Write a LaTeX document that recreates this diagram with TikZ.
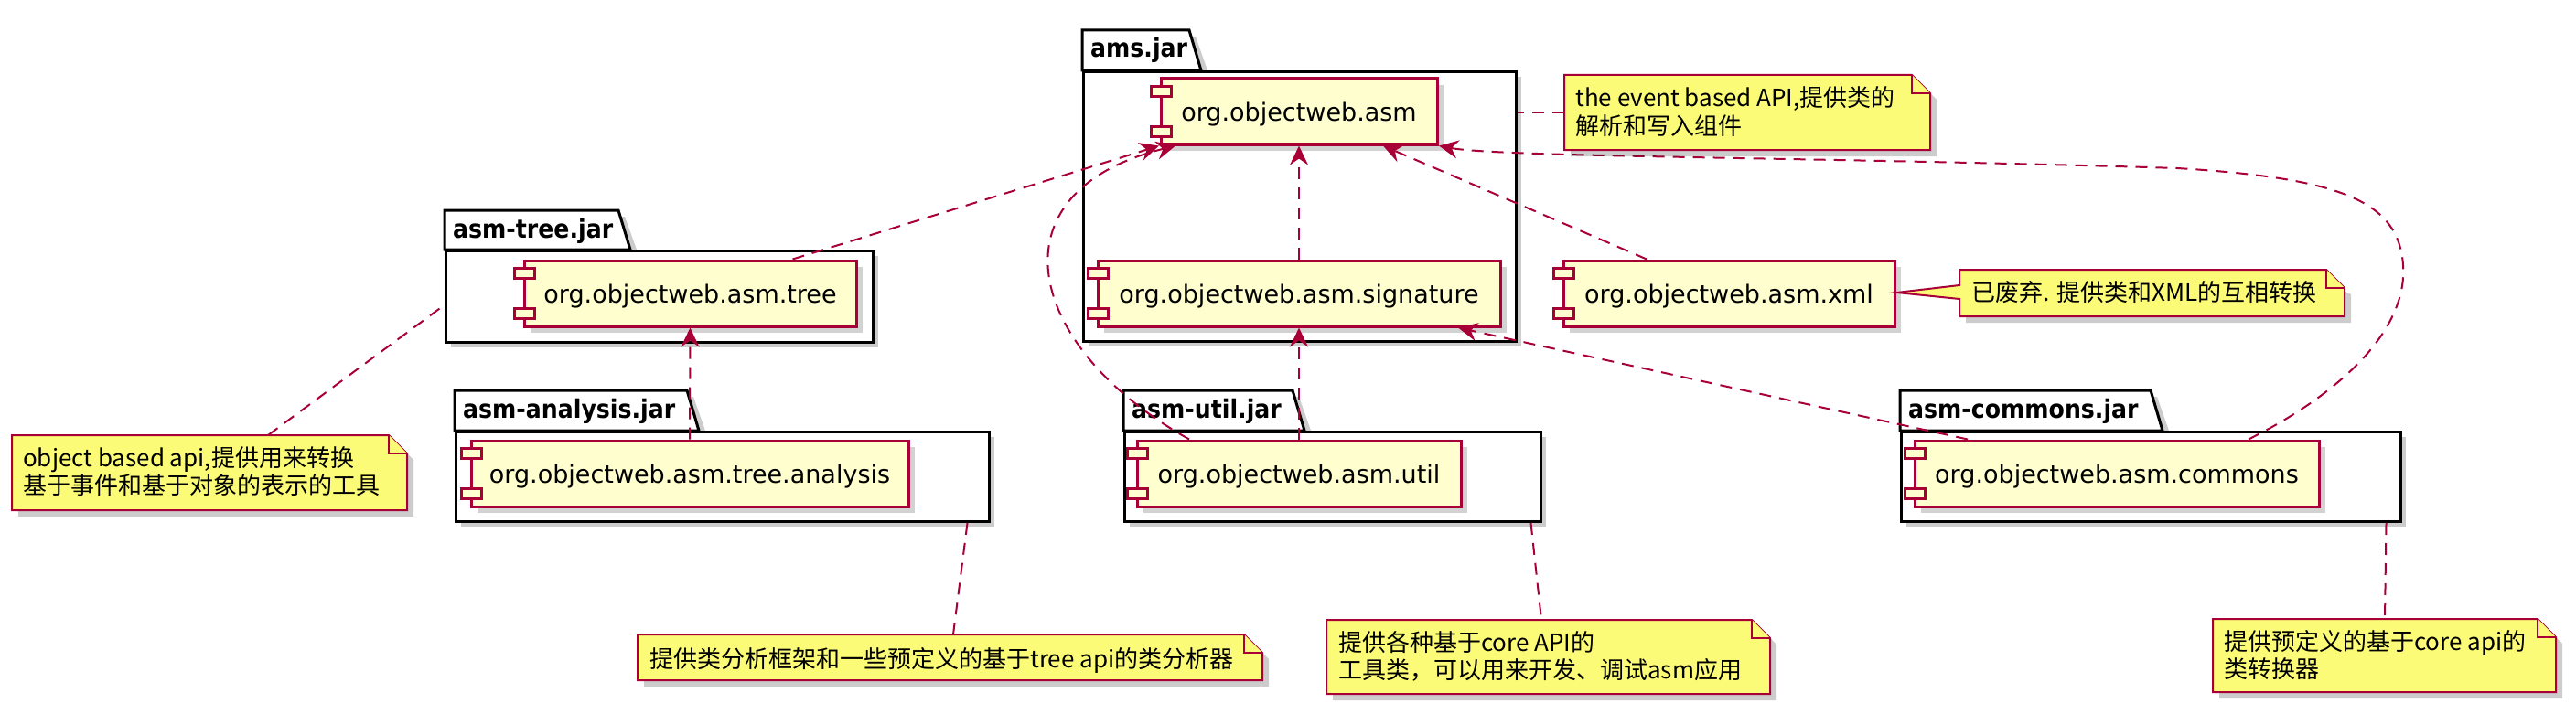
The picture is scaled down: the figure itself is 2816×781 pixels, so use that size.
\documentclass[tikz,border=0pt]{standalone}
\usepackage{fontspec}
\setmainfont{DejaVu Sans}
\newfontfamily\cjk{Noto Sans CJK SC}
\newfontfamily\pkgf[FakeStretch=0.9]{DejaVu Sans}
\usetikzlibrary{arrows.meta,shadows,calc}
\definecolor{cfill}{HTML}{FEFECE}
\definecolor{pred}{HTML}{A80036}
\definecolor{nfill}{HTML}{FBFB77}
\tikzset{
  comp/.style={draw=pred, fill=cfill, line width=3pt, minimum height=72pt, inner sep=0pt,
    text height=21pt, text depth=0pt,
    font=\fontsize{27}{32}\selectfont,
    drop shadow={shadow xshift=7pt, shadow yshift=-7pt, opacity=.25, fill=black!70}},
  port/.style={draw=pred, fill=cfill, line width=3pt},
  pkgbody/.style={draw=black, fill=white, line width=3pt, inner sep=0pt, anchor=north west},
  pkgtab/.style={draw=black, fill=white, line width=3pt},
  pkglabel/.style={font=\pkgf\bfseries\fontsize{28}{32}\selectfont, anchor=base west, inner sep=0pt},
  shad/.style={fill=black, opacity=.2},
  dep/.style={draw=pred, line width=2pt, dash pattern=on 13pt off 9pt,
    -{Stealth[length=21pt, width=20pt, inset=7pt]}},
  nlink/.style={draw=pred, line width=2pt, dash pattern=on 13pt off 9pt},
  notepath/.style={draw=pred, fill=nfill, line width=2pt, line join=miter},
  notenode/.style={inner sep=0pt, outer sep=0pt, anchor=north west},
  ntext/.style={font=\cjk\fontsize{26}{30}\selectfont, anchor=base west, inner sep=0pt},
}
\newcommand\mypkg[8]{%
  \fill[shad] (#2+7,#5+7) rectangle (#6+7,#7+7);
  \fill[shad] (#2+7,#5) -- (#2+7,#3+7) -- (#4+7,#3+7) -- (#4+20,#5) -- cycle;
  \filldraw[pkgtab] (#2,#5) -- (#2,#3) -- (#4,#3) -- (#4+13,#5) -- cycle;
  \node[pkgbody, minimum width={#6-#2}, minimum height={#7-#5}] (#1) at (#2,#5) {};
  \node[pkglabel] (#1l) at (#2+9,#3+30) {#8};
}
\newcommand\mycomp[5]{%
  \node[comp, minimum width=#4] (#1) at (#2,#3) {#5};
  \filldraw[port] ([shift={(-9pt,-10pt)}]#1.north west) rectangle ([shift={(13pt,-21pt)}]#1.north west);
  \filldraw[port] ([shift={(-9pt,21pt)}]#1.south west) rectangle ([shift={(13pt,10pt)}]#1.south west);
}
\newcommand\mynote[5]{%
  \fill[shad] (#2+7,#3+7) -- (#4-13,#3+7) -- (#4+7,#3+27) -- (#4+7,#5+7) -- (#2+7,#5+7) -- cycle;
  \node[notenode, minimum width={#4-#2}, minimum height={#5-#3}] (#1) at (#2,#3) {};
  \filldraw[notepath] (#2,#3) -- (#4-20,#3) -- (#4,#3+20) -- (#4,#5) -- (#2,#5) -- cycle;
  \draw[notepath] (#4-20,#3) -- (#4-20,#3+20) -- (#4,#3+20);
}
\begin{document}
\begin{tikzpicture}[x=1pt, y=-1pt]
\useasboundingbox (0,0) rectangle (2816,781);
\fill[white] (0,0) rectangle (2816,781);

% packages
\mypkg{pams}{1183}{33}{1300}{77}{1656}{372}{ams.jar}
\mypkg{ptree}{486}{230}{676}{273}{953}{373}{asm-tree.jar}
\mypkg{pana}{497}{427}{751}{471}{1080}{569}{asm-analysis.jar}
\mypkg{putil}{1228}{427}{1413}{471}{1683}{569}{asm-util.jar}
\mypkg{pcom}{2077}{427}{2351}{471}{2623}{569}{asm-commons.jar}

% components
\mycomp{asm}{1420}{122}{302}{org.objectweb.asm}
\mycomp{sig}{1420}{321}{440}{org.objectweb.asm.signature}
\mycomp{xml}{1890}{321}{362}{org.objectweb.asm.xml}
\mycomp{tree}{754.5}{321}{363}{org.objectweb.asm.tree}
\mycomp{ana}{754}{518}{478}{org.objectweb.asm.tree.analysis}
\mycomp{util}{1420}{518}{354}{org.objectweb.asm.util}
\mycomp{com}{2314}{518}{442}{org.objectweb.asm.commons}

% dependencies
\draw[dep] ([xshift=112pt]tree.north) -- ([xshift=-153pt]asm.south);
\draw[dep] ([xshift=-120pt]util.north) .. controls (1120,380) and (1080,210) .. ([xshift=-135pt]asm.south);
\draw[dep] (sig.north) -- (asm.south);
\draw[dep] ([xshift=-90pt]xml.north) -- ([xshift=92pt]asm.south);
\draw[dep] ([xshift=144pt]com.north) .. controls (2560,430) and (2632,360) .. (2627,290)
  .. controls (2622,220) and (2560,195) .. (2380,184)
  .. controls (2000,172) and (1640,172) .. ([xshift=153pt]asm.south);
\draw[dep] ([xshift=-163pt]com.north) -- ([xshift=174pt]sig.south);
\draw[dep] (util.north) -- (sig.south);
\draw[dep] (ana.north) -- (tree.south);

% notes
\mynote{n1}{1710}{82}{2110}{164}
\mynote{n3}{13}{476}{445}{558}
\mynote{n4}{697}{694}{1380}{744}
\mynote{n5}{1450}{678}{1935}{759}
\mynote{n6}{2419}{677}{2794}{757}
% xml note with tail
\fill[shad] (2149,302) -- (2530,302) -- (2570,322) -- (2570,353) -- (2149,353) -- cycle;
\node[notenode, minimum width=421pt, minimum height=51pt] (n2) at (2142,295) {};
\filldraw[notepath] (2142,295) -- (2543,295) -- (2563,315) -- (2563,346) -- (2142,346)
  -- (2142,327) -- ([xshift=1pt]xml.east |- 0,320) -- (2142,312) -- cycle;
\draw[notepath] (2543,295) -- (2543,315) -- (2563,315);

% note links
\draw[nlink] (n1.west) -- (n1.west -| pams.east);
\draw[nlink] ([xshift=64pt]n3.north) -- ([yshift=-9pt]ptree.west);
\draw[nlink] ([xshift=267.5pt]pana.south) -- ([xshift=3.5pt]n4.north);
\draw[nlink] ([xshift=216.5pt]putil.south) -- ([xshift=-7.5pt]n5.north);
\draw[nlink] ([xshift=257pt]pcom.south) -- ([xshift=0.5pt]n6.north);

% note texts
\node[ntext] (n1a) at (1722,117) {the event based API,提供类的};
\node[ntext] (n1b) at (1722,148) {解析和写入组件};
\node[ntext] (n2a) at (2155,329) {已废弃. 提供类和XML的互相转换};
\node[ntext] (n3a) at (25,510) {object based api,提供用来转换};
\node[ntext] (n3b) at (25,540) {基于事件和基于对象的表示的工具};
\node[ntext] (n4a) at (710,730) {提供类分析框架和一些预定义的基于tree api的类分析器};
\node[ntext] (n5a) at (1463,712) {提供各种基于core API的};
\node[ntext] (n5b) at (1463,742) {工具类，可以用来开发、调试asm应用};
\node[ntext] (n6a) at (2431,711) {提供预定义的基于core api的};
\node[ntext] (n6b) at (2431,741) {类转换器};
\end{tikzpicture}
\end{document}
